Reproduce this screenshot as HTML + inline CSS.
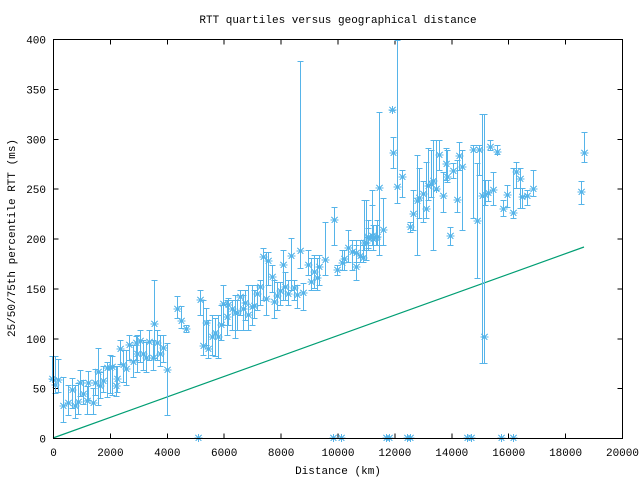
<!DOCTYPE html>
<html><head><meta charset="utf-8">
<style>
html,body{margin:0;padding:0;background:#fff;}
svg{display:block;}
text{font-family:"Liberation Mono","DejaVu Sans Mono",monospace;font-size:11px;fill:#000;}
</style></head>
<body>
<svg id="s" width="640" height="480" xmlns="http://www.w3.org/2000/svg">
<rect width="640" height="480" fill="#fff"/>
<text x="338" y="23" text-anchor="middle">RTT quartiles versus geographical distance</text>
<text x="338" y="474" text-anchor="middle">Distance (km)</text>
<text transform="translate(15,238) rotate(-90)" text-anchor="middle">25/50/75th percentile RTT (ms)</text>
<g id="ax" shape-rendering="crispEdges"></g>
<polyline points="53,438 584,247" fill="none" stroke="#009e73" stroke-width="1.2"/>
<g id="d" stroke="#56b4e9" stroke-width="1.2" fill="none" shape-rendering="crispEdges"></g>
<rect x="53.5" y="39.5" width="569" height="399" fill="none" stroke="#000" stroke-width="1" shape-rendering="crispEdges"/>
</svg>
<script>
var ns="http://www.w3.org/2000/svg",ax=document.getElementById('ax'),d=document.getElementById('d');
function el(p,t,a,txt){var e=document.createElementNS(ns,t);for(var k in a)e.setAttribute(k,a[k]);if(txt!=null)e.textContent=txt;p.appendChild(e);return e;}
var L=53.5,R=622.5,T=39.5,B=438.5;
for(var i=0;i<=10;i++){var x=L+i*(R-L)/10;
 el(ax,'line',{x1:x,y1:B,x2:x,y2:B-5,stroke:'#000'});el(ax,'line',{x1:x,y1:T,x2:x,y2:T+5,stroke:'#000'});
 el(ax,'text',{x:x,y:456,'text-anchor':'middle'},String(i*2000));}
for(var i=0;i<=8;i++){var y=B-i*(B-T)/8;
 el(ax,'line',{x1:L,y1:y,x2:L+5,y2:y,stroke:'#000'});el(ax,'line',{x1:R,y1:y,x2:R-5,y2:y,stroke:'#000'});
 el(ax,'text',{x:46,y:y+4,'text-anchor':'end'},String(i*50));}
var P=[[52,379,360,356],[55,385,393,356],[58,380,392,359],[63,406,422,377],[68,403,415,385],[72,390,408,378],[75,406,418,385],[78,402,414,383],[80,383,396,370],[83,394,404,380],[87,401,414,386],[88,383,400,371],[93,403,414,388],[95,383,395,369],[98,372,405,348],[100,386,398,372],[103,381,392,366],[107,368,397,362],[110,368,393,355],[112,367,395,356],[116,386,396,366],[117,379,392,366],[120,349,364,340],[123,365,382,350],[126,369,385,350],[129,345,360,335],[133,362,377,345],[136,343,360,336],[137,354,372,335],[140,341,362,330],[143,354,370,340],[146,358,372,342],[149,342,360,330],[153,358,370,340],[154,324,358,280],[157,343,360,330],[160,354,366,335],[163,348,362,335],[167,370,415,343],[177,309,318,296],[181,321,328,306],[186,329,332,325],
[200,300,315,290],[203,346,355,300],[206,323,345,308],[208,349,358,320],[212,337,355,315],[215,333,356,318],[218,337,358,315],[221,325,340,305],[223,304,325,285],[227,317,335,300],[228,305,325,298],[232,309,330,300],[235,313,338,295],[237,313,330,300],[240,297,315,290],[243,309,330,295],[245,303,320,290],[248,315,330,285],[252,307,325,285],[254,306,318,290],[257,294,310,285],[260,287,305,280],[263,257,300,248],[266,299,315,252],[268,261,285,252],[272,277,292,265],[274,302,318,280],[277,296,310,282],[280,291,305,282],[283,265,300,250],[285,287,300,272],[288,294,305,280],[291,256,290,238],[294,288,300,280],[297,295,308,285],[300,251,268,61],[303,293,310,283],[308,265,275,250],[311,282,290,258],[314,272,288,255],[317,278,290,258],[319,267,285,255],[325,260,275,222],[334,220,245,207],[337,270,275,265],[342,263,270,250],[344,259,270,250],[348,248,262,230],[352,252,270,240],[356,267,280,240],[356,253,262,245],[360,256,262,240],[363,258,262,245],[366,243,260,200],[368,237,250,220],[372,236,245,205],[373,239,250,225],[377,237,245,220],[379,188,255,112],[383,230,245,198],
[364,243,250,200],[368,238,248,228],[372,236,245,190],[376,238,245,225],[379,188,245,112],[392,110,110,110],[393,153,168,137],[397,187,203,40],[402,177,197,170],[410,227,232,222],[413,214,230,190],[417,201,255,155],[419,198,218,168],[423,194,222,181],[426,209,218,162],[428,186,200,148],[431,184,197,150],[433,181,250,140],[436,189,190,140],[439,155,170,140],[443,196,212,172],[446,164,180,148],[447,177,182,150],[450,236,245,227],[453,171,178,163],[457,200,212,160],[459,156,170,142],[462,167,230,150],[473,150,218,145],[477,221,278,163],[479,150,175,145],[482,196,363,114],[484,337,363,114],[485,195,205,180],[488,193,201,180],[490,147,150,140],[493,190,205,172],[497,152,154,145],[503,209,216,200],[507,195,207,185],[513,213,218,168],[516,172,188,162],[520,179,208,168],[522,197,208,188],[527,196,205,190],[533,189,196,170],[581,192,204,181],[584,153,162,132]];
function star(x,y){el(d,'path',{d:'M'+(x-4)+','+y+'H'+(x+4)+'M'+x+','+(y-4)+'V'+(y+4)+'M'+(x-3)+','+(y-3)+'L'+(x+3)+','+(y+3)+'M'+(x-3)+','+(y+3)+'L'+(x+3)+','+(y-3)});}
P.forEach(function(p){var x=p[0]+.5;var lo=Math.max(p[2],p[1]),hi=Math.min(p[3],p[1]);
 el(d,'path',{d:'M'+x+','+lo+'V'+hi+'M'+(x-3)+','+(lo+.5)+'H'+(x+3)+'M'+(x-3)+','+(hi+.5)+'H'+(x+3)});
 star(x,p[1]);});
[198,333,341,386,389,407,410,467,471,501,513].forEach(function(x){star(x+.5,438);});
</script>
</body></html>
